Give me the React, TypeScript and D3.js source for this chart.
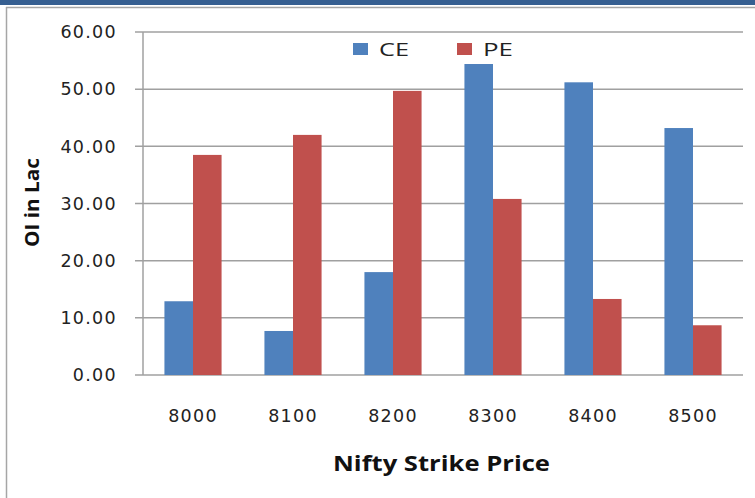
import React, { useEffect, useRef } from 'react';
import * as d3 from 'd3';

const strikes = ['8000', '8100', '8200', '8300', '8400', '8500'];
const ceValues = [12.9, 7.7, 18.0, 54.4, 51.2, 43.2];
const peValues = [38.5, 42.0, 49.7, 30.8, 13.3, 8.7];
const seriesNames = ['CE', 'PE'];
const seriesColors = ['#4f81bd', '#c0504d'];
const yTicks = [0, 10, 20, 30, 40, 50, 60];

function App() {
    const svgRef = useRef<SVGSVGElement>(null);

    useEffect(() => {
        const svg = d3.select(svgRef.current);
        svg.selectAll('*').remove();

        const W = 755, H = 498;
        const left = 143, right = 743, top = 32, bottom = 375;

        // frame
        svg.append('rect').attr('x', 0).attr('y', 0).attr('width', W).attr('height', H).attr('fill', '#fff');
        svg.append('rect').attr('x', 0).attr('y', 0).attr('width', W).attr('height', 5).attr('fill', '#365f91');
        svg.append('line').attr('x1', 6).attr('x2', W).attr('y1', 7.5).attr('y2', 7.5)
            .attr('stroke', '#a6a6a6').attr('stroke-width', 1.5);
        svg.append('line').attr('x1', 6.5).attr('x2', 6.5).attr('y1', 7).attr('y2', H)
            .attr('stroke', '#a6a6a6').attr('stroke-width', 1.5);

        const x0 = d3.scaleBand().domain(strikes).range([left, right]).paddingInner(0).paddingOuter(0);
        const y = d3.scaleLinear().domain([0, 60]).range([bottom, top]);
        const barW = x0.bandwidth() / 3.5;
        const x1 = d3.scaleBand().domain(seriesNames).range([0, barW * 2]);

        // gridlines
        svg.append('g').selectAll('line').data(yTicks).enter().append('line')
            .attr('x1', left - 8).attr('x2', right)
            .attr('y1', d => y(d)).attr('y2', d => y(d))
            .attr('stroke', '#a0a0a0').attr('stroke-width', 1.5);

        // y axis line
        svg.append('line').attr('x1', left).attr('x2', left).attr('y1', top).attr('y2', bottom)
            .attr('stroke', '#a0a0a0').attr('stroke-width', 1.5);

        // y tick labels
        svg.append('g').selectAll('text').data(yTicks).enter().append('text')
            .attr('x', 117).attr('y', d => y(d)).attr('dy', '0.36em')
            .attr('text-anchor', 'end')
            .style('font-family', 'DejaVu Sans').style('font-size', '17.5px')
            .style('letter-spacing', '1.3px').attr('fill', '#222')
            .text(d => d3.format('.2f')(d));

        // bars
        const data = strikes.map((s, i) => ({ strike: s, values: [ceValues[i], peValues[i]] }));
        const groups = svg.append('g').selectAll('g').data(data).enter().append('g')
            .attr('transform', d => `translate(${(x0(d.strike) as number) + (x0.bandwidth() - barW * 2) / 2},0)`);
        groups.selectAll('rect').data(d => d.values.map((v, j) => ({ v, j }))).enter().append('rect')
            .attr('x', d => x1(seriesNames[d.j]) as number)
            .attr('y', d => y(d.v))
            .attr('width', x1.bandwidth())
            .attr('height', d => bottom - y(d.v))
            .attr('fill', d => seriesColors[d.j]);

        // x tick labels
        svg.append('g').selectAll('text').data(strikes).enter().append('text')
            .attr('x', d => (x0(d) as number) + x0.bandwidth() / 2)
            .attr('y', 422)
            .attr('text-anchor', 'middle')
            .style('font-family', 'DejaVu Sans').style('font-size', '17.5px')
            .style('letter-spacing', '1.3px').attr('fill', '#222')
            .text(d => d);

        // axis titles
        svg.append('text').attr('x', 333).attr('y', 471)
            .attr('textLength', 217).attr('lengthAdjust', 'spacingAndGlyphs')
            .style('font-family', 'Open Sans').style('font-weight', 'bold').style('font-size', '21px')
            .attr('fill', '#111').text('Nifty Strike Price');
        svg.append('text').attr('transform', 'translate(39,247) rotate(-90)')
            .attr('textLength', 89).attr('lengthAdjust', 'spacingAndGlyphs')
            .style('font-family', 'Open Sans').style('font-weight', 'bold').style('font-size', '20px')
            .attr('fill', '#111').text('OI in Lac');

        // legend
        const legendPos = [353, 457];
        const legend = svg.append('g').selectAll('g').data(seriesNames).enter().append('g')
            .attr('transform', (d, i) => `translate(${legendPos[i]},43)`);
        legend.append('rect').attr('width', 15).attr('height', 12).attr('fill', (d, i) => seriesColors[i]);
        legend.append('text').attr('x', 26).attr('y', 13)
            .attr('textLength', 30).attr('lengthAdjust', 'spacingAndGlyphs')
            .style('font-family', 'Open Sans').style('font-size', '18px').attr('fill', '#222')
            .text(d => d);
    }, []);

    return (
        <svg ref={svgRef} width={755} height={498}
            style={{ position: 'absolute', left: 0, top: 0, display: 'block' }} />
    );
}

export default App;
